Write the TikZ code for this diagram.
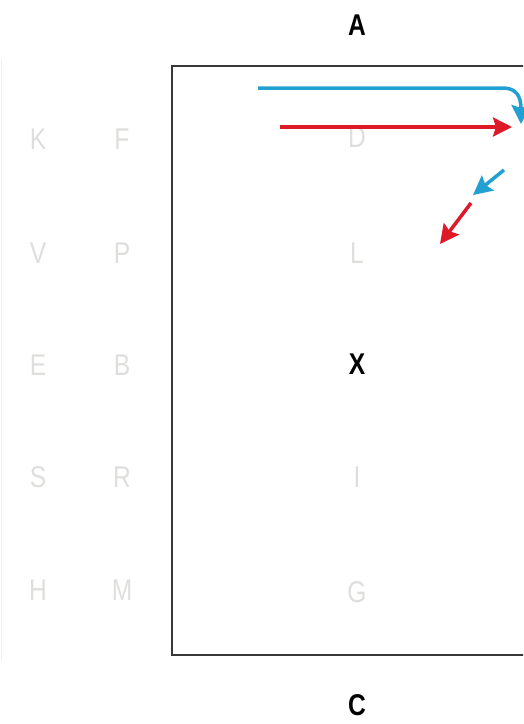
\documentclass[tikz,border=0pt]{standalone}
\usepackage{fontspec}
\setmainfont{Liberation Sans}
\usetikzlibrary{arrows.meta}
\definecolor{faint}{RGB}{222,222,220}
\definecolor{arrblue}{RGB}{35,160,210}
\definecolor{arrred}{RGB}{222,25,40}
\definecolor{framec}{RGB}{55,55,55}
\newcommand{\narrow}[1]{\scalebox{0.82}[1]{#1}}
\tikzset{
  lightlet/.style={text=faint,font=\fontsize{30}{30}\selectfont,inner sep=0pt,anchor=center},
  boldlet/.style={text=black,font=\bfseries\fontsize{30}{30}\selectfont,inner sep=0pt,anchor=center},
  bluearrow/.style={draw=arrblue,line width=3.5pt,-{Stealth[length=19pt,width=19pt,inset=3pt]}},
  redarrow/.style={draw=arrred,line width=3.5pt,-{Stealth[length=19pt,width=19pt,inset=3pt]}},
  frame/.style={draw=framec,line width=1.6pt}
}
\begin{document}
\begin{tikzpicture}[x=1pt,y=-1pt]
\useasboundingbox (0,0) rectangle (523,724);
\begin{scope}
\clip (0,0) rectangle (523,724);
\draw[frame] (172,66) rectangle (540,655);
\end{scope}
\draw[black!6,line width=0.8pt] (1.5,60) -- (1.5,660);
% light letters
\node[lightlet] (K) at (38,139) {\narrow{K}};
\node[lightlet] (F) at (122,139) {\narrow{F}};
\node[lightlet] (V) at (38,253) {\narrow{V}};
\node[lightlet] (P) at (122,253) {\narrow{P}};
\node[lightlet] (E) at (38,365) {\narrow{E}};
\node[lightlet] (B) at (122,365) {\narrow{B}};
\node[lightlet] (S) at (38,477) {\narrow{S}};
\node[lightlet] (R) at (122,477) {\narrow{R}};
\node[lightlet] (H) at (38,590) {\narrow{H}};
\node[lightlet] (M) at (122,590) {\narrow{M}};
\node[lightlet] (D) at (357,137) {\narrow{D}};
\node[lightlet] (L) at (357,253) {\narrow{L}};
\node[lightlet] (I) at (357,477) {\narrow{I}};
\node[lightlet] (G) at (357,592) {\narrow{G}};
% bold letters
\node[boldlet] (A) at (357,25) {\narrow{A}};
\node[boldlet] (X) at (357,364) {\narrow{X}};
\node[boldlet] (C) at (357,705) {\narrow{C}};
% arrow coordinates
\coordinate (b1s) at (258,88);
\coordinate (b1m) at (503,88);
\coordinate (b1e) at (521,124);
\coordinate (r1s) at (280,127);
\coordinate (r1e) at (512,127);
\coordinate (b2s) at (504,170);
\coordinate (b2e) at (473,195);
\coordinate (r2s) at (471,203);
\coordinate (r2e) at (440,244);
\draw[bluearrow] (b1s) -- (b1m) .. controls (516,88) and (521,96) .. (b1e);
\draw[redarrow] (r1s) -- (r1e);
\draw[bluearrow] (b2s) -- (b2e);
\draw[redarrow] (r2s) -- (r2e);
\end{tikzpicture}
\end{document}
